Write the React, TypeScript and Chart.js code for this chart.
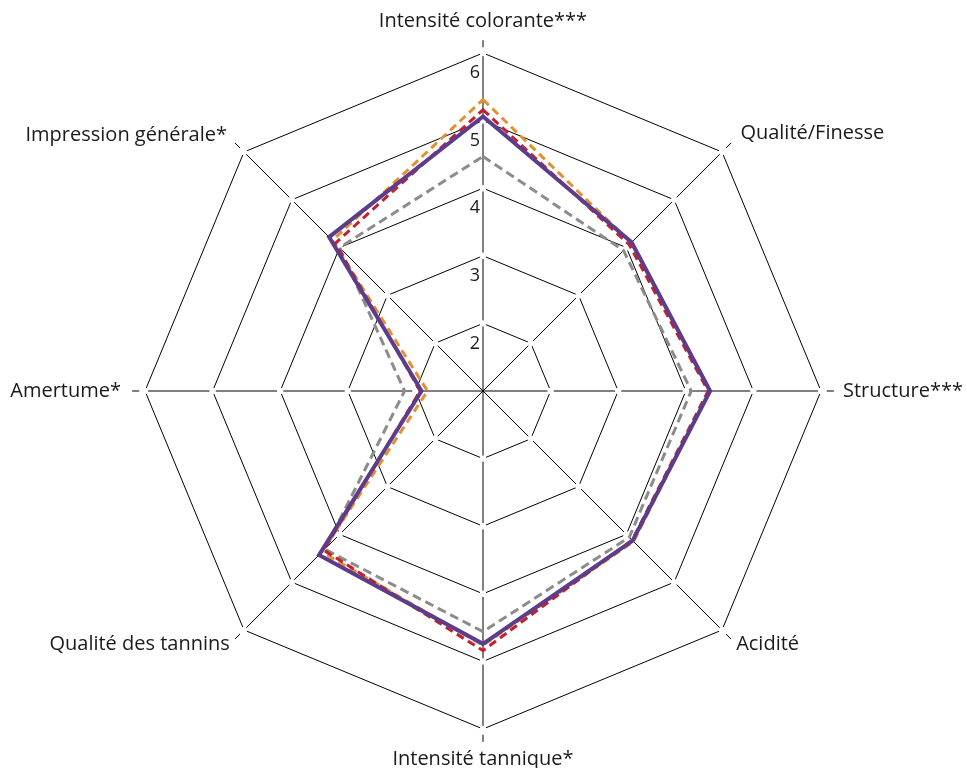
import React, { useEffect, useRef } from "react";
import { Chart, registerables } from "chart.js";

Chart.register(...registerables);

const categories = [
  "Intensité colorante***",
  "Qualité/Finesse",
  "Structure***",
  "Acidité",
  "Intensité tannique*",
  "Qualité des tannins",
  "Amertume*",
  "Impression générale*",
];

const purpleValues = [5.06, 4.11, 4.36, 4.13, 4.74, 4.43, 1.91, 4.22];
const redValues = [5.16, 4.06, 4.33, 4.12, 4.84, 4.33, 1.93, 4.09];
const orangeValues = [5.31, 4.1, 4.35, 4.15, 4.76, 4.37, 1.82, 4.15];
const grayValues = [4.47, 3.94, 4.08, 4.06, 4.56, 4.31, 2.16, 4.0];

const scaleMin = 1;
const scaleMax = 6;

const labelPadding = [32, 26, 22, 20, 30, 20, 24, 24];

const FONT = "'Open Sans', 'Noto Sans', sans-serif";

const gridPlugin = {
  id: "excelGrid",
  beforeDatasetsDraw(chart: any) {
    const scale = chart.scales.r;
    const ctx = chart.ctx;
    const n = chart.data.labels.length;
    ctx.save();
    // gaps at vertices
    ctx.fillStyle = "#ffffff";
    scale.ticks.forEach((t: any, idx: number) => {
      if (idx === 0) return;
      for (let i = 0; i < n; i++) {
        const p = scale.getPointPositionForValue(i, t.value);
        ctx.beginPath();
        ctx.arc(p.x, p.y, 3.2, 0, Math.PI * 2);
        ctx.fill();
      }
    });
    // axis extensions beyond outer ring
    ctx.strokeStyle = "#000000";
    ctx.lineWidth = 1;
    for (let i = 0; i < n; i++) {
      const a = scale.getPointPositionForValue(i, scaleMax + 0.085);
      const b = scale.getPointPositionForValue(i, scaleMax + 0.19);
      ctx.beginPath();
      ctx.moveTo(a.x, a.y);
      ctx.lineTo(b.x, b.y);
      ctx.stroke();
    }
    // tick labels
    ctx.fillStyle = "#1a1a1a";
    ctx.font = `18px ${FONT}`;
    ctx.textAlign = "right";
    ctx.textBaseline = "middle";
    scale.ticks.forEach((t: any, idx: number) => {
      if (idx === 0) return;
      const d = scale.getDistanceFromCenterForValue(t.value);
      ctx.fillText(t.label, scale.xCenter - 3, scale.yCenter - d + 20);
    });
    ctx.restore();
  },
};

export default function App() {
  const ref = useRef<HTMLCanvasElement>(null);
  useEffect(() => {
    if (!ref.current) return;
    const mk = (label: string, data: number[], color: string, width: number, dash: number[]) => ({
      label,
      data,
      borderColor: color,
      backgroundColor: "transparent",
      borderWidth: width,
      borderDash: dash,
      pointRadius: 0,
      pointHoverRadius: 0,
      fill: false,
      tension: 0,
    });
    const chart = new Chart(ref.current, {
      type: "radar",
      data: {
        labels: categories,
        datasets: [
          mk("A", purpleValues, "#5d3c8b", 4, []),
          mk("B", redValues, "#c41f2e", 3, [8, 5]),
          mk("C", orangeValues, "#e3912f", 3, [8, 5]),
          mk("D", grayValues, "#8c8c8c", 3, [9, 5]),
        ],
      },
      options: {
        animation: false,
        responsive: true,
        maintainAspectRatio: false,
        layout: { padding: { top: 20, left: 7, right: 0, bottom: 7 } },
        plugins: { legend: { display: false }, tooltip: { enabled: false } },
        scales: {
          r: {
            min: scaleMin,
            max: scaleMax,
            ticks: { stepSize: 1, display: false },
            grid: { color: "#000000", lineWidth: 1 },
            angleLines: { color: "#000000", lineWidth: 1 },
            pointLabels: {
              color: "#1a1a1a",
              padding: (ctx: any) => labelPadding[ctx.index] ?? 22,
              font: { family: FONT, size: 20, lineHeight: 0 },
            },
          },
        },
      },
      plugins: [gridPlugin],
    });
    return () => chart.destroy();
  }, []);
  return (
    <div style={{ position: "fixed", left: 0, top: 0, width: 967, height: 768 }}>
      <canvas ref={ref} />
    </div>
  );
}
